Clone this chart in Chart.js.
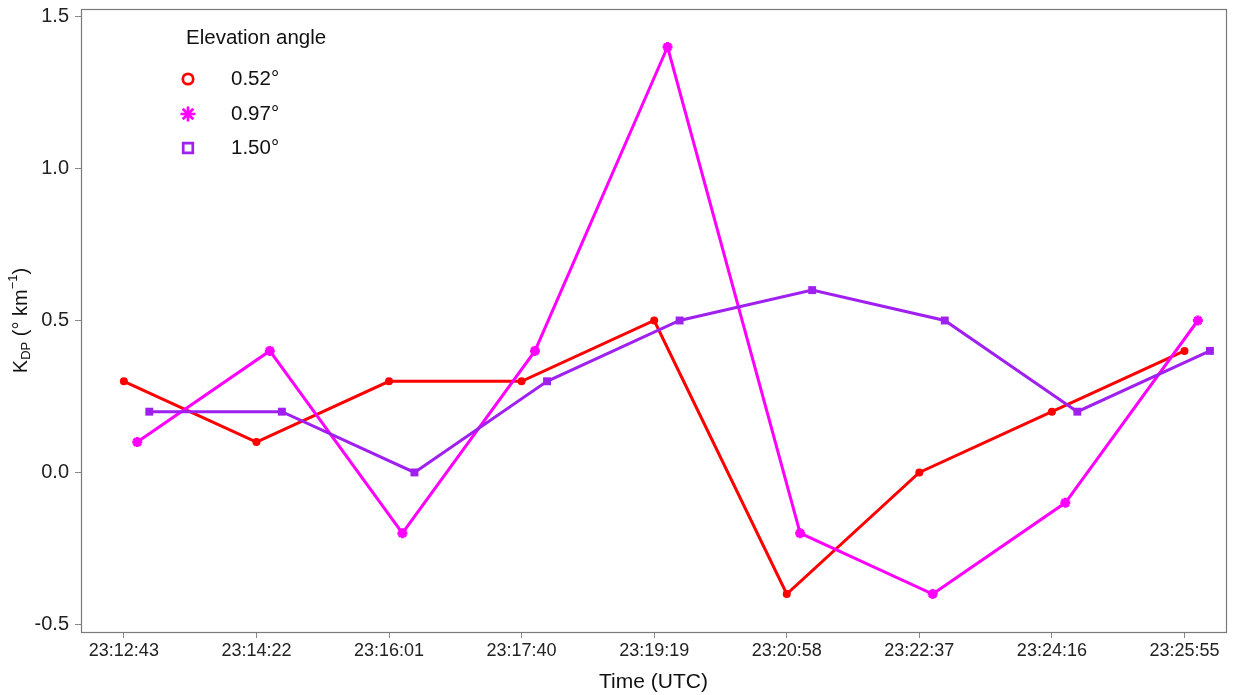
<!DOCTYPE html>
<html>
<head>
<meta charset="utf-8">
<script src="https://cdn.jsdelivr.net/npm/chart.js@4"></script>
<style>
  html, body { margin: 0; padding: 0; background: #fff; }
  #wrap { width: 1234px; height: 695px; }
</style>
</head>
<body>
<div id="wrap"><canvas id="c" width="1234" height="695"></canvas></div>
<script>
// Scan times (UTC) for each elevation angle
const times052 = ["23:12:43","23:14:22","23:16:01","23:17:40","23:19:19","23:20:58","23:22:37","23:24:16","23:25:55"];
const times097 = ["23:12:53","23:14:32","23:16:11","23:17:50","23:19:29","23:21:08","23:22:47","23:24:26","23:26:05"];
const times150 = ["23:13:02","23:14:41","23:16:20","23:17:59","23:19:38","23:21:17","23:22:56","23:24:35","23:26:14"];

// Specific differential phase KDP (° km^-1)
const kdp052 = [0.3, 0.1, 0.3, 0.3, 0.5, -0.4, 0.0, 0.2, 0.4];
const kdp097 = [0.1, 0.4, -0.2, 0.4, 1.4, -0.2, -0.4, -0.1, 0.5];
const kdp150 = [0.2, 0.2, 0.0, 0.3, 0.5, 0.6, 0.5, 0.2, 0.4];

// Axis tick labels
const xTickLabels = ["23:12:43","23:14:22","23:16:01","23:17:40","23:19:19","23:20:58","23:22:37","23:24:16","23:25:55"];
const yTickValues = [-0.5, 0.0, 0.5, 1.0, 1.5];

const elevLabels = ["0.52°", "0.97°", "1.50°"];
const colors = ["#FF0000", "#FF00FF", "#A020F0"];

const FONT = "'Liberation Sans', Arial, Helvetica, sans-serif";

// seconds since the first scan
const t0 = toSec(xTickLabels[0]);
function toSec(s) {
  const p = s.split(":").map(Number);
  return p[0] * 3600 + p[1] * 60 + p[2];
}
function fmtTime(sec) {
  let s = Math.round(sec + t0);
  const h = Math.floor(s / 3600); s -= h * 3600;
  const m = Math.floor(s / 60); s -= m * 60;
  const pad = v => String(v).padStart(2, "0");
  return pad(h) + ":" + pad(m) + ":" + pad(s);
}
function pts(times, vals) {
  return times.map((t, i) => ({ x: toSec(t) - t0, y: vals[i] }));
}

// Frame around the plotting area, axis titles and legend
const decor = {
  id: "decor",
  afterDraw(chart) {
    const ctx = chart.ctx;
    const a = chart.chartArea;
    ctx.save();
    ctx.strokeStyle = "#7a7a7a";
    ctx.lineWidth = 1.2;
    ctx.strokeRect(Math.round(a.left) + 0.5, Math.round(a.top) + 0.5,
                   Math.round(a.right - a.left), Math.round(a.bottom - a.top));

    // x-axis title
    ctx.fillStyle = "#111";
    ctx.font = "21px " + FONT;
    ctx.textAlign = "center";
    ctx.textBaseline = "middle";
    ctx.fillText("Time (UTC)", (a.left + a.right) / 2, 682);

    // y-axis title: K_DP (° km^-1)
    ctx.save();
    ctx.translate(21, (a.top + a.bottom) / 2);
    ctx.rotate(-Math.PI / 2);
    const parts = [
      { t: "K", f: "20px", dy: 0 },
      { t: "DP", f: "13px", dy: 5 },
      { t: " (° km", f: "20px", dy: 0 },
      { t: "\u22121", f: "13px", dy: -8 },
      { t: ")", f: "20px", dy: 0 }
    ];
    let w = 0;
    parts.forEach(p => { ctx.font = p.f + " " + FONT; p.w = ctx.measureText(p.t).width; w += p.w; });
    let x = -w / 2;
    ctx.textAlign = "left";
    parts.forEach(p => {
      ctx.font = p.f + " " + FONT;
      ctx.fillText(p.t, x, p.dy);
      x += p.w;
    });
    ctx.restore();

    // legend
    ctx.font = "20.5px " + FONT;
    ctx.textAlign = "left";
    ctx.fillText("Elevation angle", 186, 38);
    const rows = [79, 114, 148];
    ctx.lineWidth = 2.7;
    rows.forEach((y, i) => {
      const cx = 188;
      ctx.strokeStyle = colors[i];
      ctx.beginPath();
      if (i === 0) {
        ctx.arc(cx, y, 5.2, 0, Math.PI * 2);
      } else if (i === 1) {
        const r = 7.5;
        for (let k = 0; k < 4; k++) {
          const ang = k * Math.PI / 4;
          ctx.moveTo(cx - r * Math.cos(ang), y - r * Math.sin(ang));
          ctx.lineTo(cx + r * Math.cos(ang), y + r * Math.sin(ang));
        }
      } else {
        ctx.rect(cx - 4.8, y - 4.8, 9.6, 9.6);
      }
      ctx.stroke();
      ctx.fillStyle = "#111";
      ctx.fillText(elevLabels[i], 231, y);
    });
    ctx.restore();
  }
};

new Chart(document.getElementById("c"), {
  type: "line",
  data: {
    datasets: [
      {
        label: elevLabels[0], data: pts(times052, kdp052),
        borderColor: colors[0], backgroundColor: colors[0],
        borderWidth: 3, pointStyle: "circle", pointRadius: 4, pointBorderWidth: 0,
        order: 2
      },
      {
        label: elevLabels[1], data: pts(times097, kdp097),
        borderColor: colors[1], backgroundColor: colors[1],
        borderWidth: 3, pointStyle: "star", pointRadius: 5, pointBorderWidth: 3,
        order: 1
      },
      {
        label: elevLabels[2], data: pts(times150, kdp150),
        borderColor: colors[2], backgroundColor: colors[2],
        borderWidth: 3, pointStyle: "rect", pointRadius: 5.6, pointBorderWidth: 0,
        order: 0
      }
    ]
  },
  options: {
    responsive: false,
    animation: false,
    devicePixelRatio: 1,
    layout: { padding: { left: 0, right: 8, top: 9, bottom: 0 } },
    plugins: { legend: { display: false }, tooltip: { enabled: false } },
    elements: { line: { tension: 0 } },
    scales: {
      x: {
        type: "linear",
        min: -32,
        max: 823,
        afterFit(scale) {
          scale.height = 63;
          scale.paddingLeft = 0;
          scale.paddingRight = 0;
        },
        afterBuildTicks(scale) {
          scale.ticks = xTickLabels.map(s => ({ value: toSec(s) - t0 }));
        },
        ticks: {
          callback: v => fmtTime(v),
          color: "#222",
          font: { family: FONT, size: 18 },
          padding: 2,
          maxRotation: 0,
          autoSkip: false
        },
        grid: { drawOnChartArea: false, drawTicks: true, tickLength: 6, color: "#888" },
        border: { display: false }
      },
      y: {
        type: "linear",
        min: -0.525,
        max: 1.525,
        afterFit(scale) {
          scale.width = 81;
          scale.paddingTop = 0;
          scale.paddingBottom = 0;
        },
        afterBuildTicks(scale) {
          scale.ticks = yTickValues.map(v => ({ value: v }));
        },
        ticks: {
          callback: v => v.toFixed(1),
          color: "#222",
          font: { family: FONT, size: 20 },
          padding: 6
        },
        grid: { drawOnChartArea: false, drawTicks: true, tickLength: 6, color: "#888" },
        border: { display: false }
      }
    }
  },
  plugins: [decor]
});
</script>
</body>
</html>
